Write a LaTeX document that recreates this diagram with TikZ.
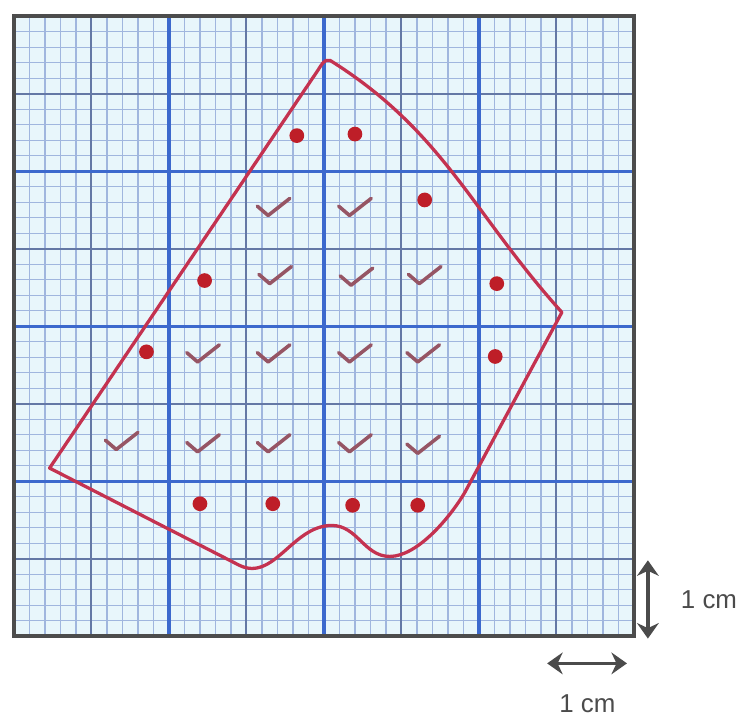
\documentclass[tikz,border=0pt]{standalone}
\usepackage{fontspec}
\setmainfont{Liberation Sans}
\usetikzlibrary{positioning, arrows.meta}
\usepackage{xcolor}

\definecolor{paper}{RGB}{232,246,251}
\definecolor{fineline}{RGB}{160,182,222}
\definecolor{cmline}{RGB}{100,120,165}
\definecolor{majorline}{RGB}{60,105,205}
\definecolor{outlinered}{RGB}{196,50,80}
\definecolor{dotred}{RGB}{190,30,40}
\definecolor{tickmauve}{RGB}{150,85,100}
\definecolor{scalegrey}{RGB}{75,75,75}

\begin{document}
\begin{tikzpicture}[>={Stealth[length=2mm, width=2.8mm]},
    outline/.style={draw=outlinered, line width=1.2pt, line join=round},
    reddot/.style={fill=dotred},
    tickmark/.style={draw=tickmauve, line width=1.3pt, line cap=round, line join=round},
    scalearrow/.style={<->, draw=scalegrey, line width=1.2pt},
    scaletext/.style={text=scalegrey, inner sep=0pt, font=\fontsize{9.5}{11}\selectfont}]
    \useasboundingbox (-0.18,-1.11) rectangle (9.42,8.21);

    % Graph paper
    \fill[paper] (0,0) rectangle (8,8);
    \draw[fineline, line width=0.5pt] (0,0) grid[step=0.2] (8,8);
    \draw[cmline, line width=0.7pt] (0,0) grid[step=1] (8,8);
    \draw[majorline, line width=1.2pt] (0,0) grid[step=2] (8,8);
    \draw[gray!60!black, line width=1.4pt] (0,0) rectangle (8,8);

    % Shape outline
    \coordinate (L) at (0.46,2.17);
    \coordinate (R) at (7.07,4.18);
    \coordinate (M2) at (4.85,1.03);
    \coordinate (B) at (4.10,1.43);
    \coordinate (M1) at (2.9,0.92);
    \draw[outline] (L) -- (3.92,7.3) to[out=56,in=160] (4.08,7.43)
        to[out=-32,in=132] (R) -- (5.82,1.86)
        .. controls (5.62,1.52) and (5.2,1.03) .. (M2)
        to[out=180,in=0] (B) to[out=180,in=-27] (M1) -- cycle;

    % Part squares
    \foreach \x/\y in {3.65/6.46, 4.40/6.48, 5.30/5.63, 2.46/4.59, 6.23/4.55,
        1.71/3.67, 6.21/3.61, 2.40/1.71, 3.34/1.71, 4.37/1.69, 5.21/1.69}
        \fill[reddot] (\x,\y) circle (0.095);

    % Whole squares
    \foreach \x/\y in {3.35/5.54, 4.40/5.54, 3.37/4.66, 4.42/4.64, 5.30/4.66,
        2.44/3.65, 3.35/3.65, 4.40/3.65, 5.28/3.65,
        1.39/2.52, 2.44/2.49, 3.35/2.49, 4.40/2.49, 5.28/2.47}
        \draw[tickmark, shift={(\x,\y)}] (-0.21,0.01) -- (-0.07,-0.11) -- (0.21,0.11);

    % Scale
    \coordinate (vtop) at (8.18,0.98);
    \coordinate (vbot) at (8.18,-0.03);
    \coordinate (vmid) at (8.18,0.47);
    \coordinate (hleft) at (6.88,-0.35);
    \coordinate (hright) at (7.91,-0.35);
    \coordinate (hmid) at (7.4,-0.35);
    \draw[scalearrow] (vtop) -- (vbot);
    \draw[scalearrow] (hleft) -- (hright);
    \node[scaletext, right=0.42cm of vmid] (vlabel) {1 cm};
    \node[scaletext, below=0.4cm of hmid] (hlabel) {1 cm};
\end{tikzpicture}
\end{document}
